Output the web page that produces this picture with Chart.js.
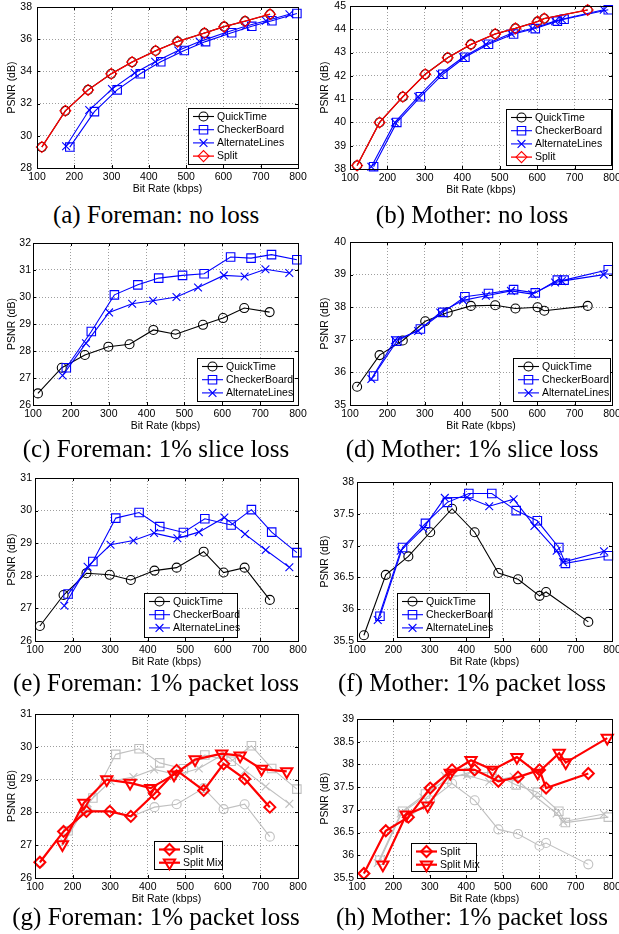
<!DOCTYPE html>
<html>
<head>
<meta charset="utf-8">
<script src="https://cdn.jsdelivr.net/npm/chart.js@4.4.1/dist/chart.umd.min.js"></script>
<style>
  html, body { margin: 0; padding: 0; background: #fff; width: 619px; height: 934px; overflow: hidden; position: relative; }
  canvas { position: absolute; }
  .cap { position: absolute; width: 340px; text-align: center; white-space: nowrap; color: #000;
         font-family: "Liberation Serif", "Times New Roman", serif; font-size: 25px; line-height: 25px; }
</style>
</head>
<body>
<script>
// ---- bit rates (kbps) ----
const foremanRateQT = [113, 176, 237, 299, 355, 418, 477, 549, 602, 658, 725];
const foremanRateCB = [188, 254, 315, 377, 432, 495, 552, 622, 676, 730, 797];
const foremanRateAL = [178, 240, 301, 362, 417, 479, 536, 604, 659, 714, 777];
const foremanRateSM = [173, 230, 291, 353, 408, 470, 526, 597, 646, 703, 770];
const motherRateQT = [119, 179, 241, 301, 361, 423, 488, 542, 601, 619, 735];
const motherRateCB = [163, 225, 288, 348, 407, 470, 537, 595, 654, 672, 790];
const motherRateAL = [157, 220, 282, 341, 402, 463, 530, 587, 648, 666, 778];
const motherRateSM = [171, 235, 294, 356, 413, 472, 539, 596, 655, 673, 787];

// ---- PSNR (dB) ----
// (a) Foreman, no loss
const foremanNoLossQT    = [29.3, 31.55, 32.85, 33.85, 34.58, 35.28, 35.85, 36.38, 36.78, 37.12, 37.55];
const foremanNoLossCB    = [29.3, 31.5, 32.85, 33.85, 34.6, 35.3, 35.85, 36.4, 36.8, 37.15, 37.6];
const foremanNoLossAL    = [29.35, 31.6, 32.9, 33.9, 34.6, 35.3, 35.85, 36.4, 36.8, 37.15, 37.55];
const foremanNoLossSplit = [29.3, 31.55, 32.85, 33.85, 34.58, 35.28, 35.85, 36.38, 36.78, 37.12, 37.55];
// (b) Mother, no loss
const motherNoLossQT    = [38.15, 40.0, 41.1, 42.07, 42.78, 43.35, 43.8, 44.04, 44.33, 44.46, 44.83];
const motherNoLossCB    = [38.1, 40.0, 41.1, 42.07, 42.8, 43.36, 43.8, 44.03, 44.35, 44.43, 44.84];
const motherNoLossAL    = [38.1, 40.0, 41.1, 42.07, 42.8, 43.36, 43.82, 44.03, 44.35, 44.43, 44.84];
const motherNoLossSplit = [38.15, 40.0, 41.1, 42.07, 42.78, 43.35, 43.8, 44.04, 44.33, 44.46, 44.83];
// (c) Foreman, 1% slice loss
const foremanSliceQT = [26.43, 27.38, 27.85, 28.16, 28.25, 28.78, 28.62, 28.97, 29.22, 29.59, 29.44];
const foremanSliceCB = [27.38, 28.72, 30.08, 30.45, 30.7, 30.8, 30.86, 31.48, 31.44, 31.57, 31.38];
const foremanSliceAL = [27.09, 28.29, 29.43, 29.75, 29.86, 30.0, 30.35, 30.8, 30.76, 31.03, 30.89];
// (d) Mother, 1% slice loss
const motherSliceQT = [35.56, 36.53, 36.98, 37.57, 37.84, 38.04, 38.06, 37.96, 38.0, 37.89, 38.04];
const motherSliceCB = [35.89, 36.96, 37.33, 37.84, 38.32, 38.42, 38.54, 38.44, 38.83, 38.83, 39.15];
const motherSliceAL = [35.8, 36.99, 37.27, 37.84, 38.21, 38.35, 38.5, 38.4, 38.76, 38.8, 39.0];
// (e)/(g) Foreman, 1% packet loss
const foremanPacketQT = [26.46, 27.41, 28.08, 28.03, 27.87, 28.16, 28.25, 28.74, 28.1, 28.25, 27.26];
const foremanPacketCB = [27.44, 28.44, 29.77, 29.94, 29.51, 29.33, 29.75, 29.56, 30.03, 29.34, 28.71];
const foremanPacketAL = [27.08, 28.28, 28.95, 29.08, 29.31, 29.15, 29.34, 29.79, 29.28, 28.79, 28.26];
const foremanPacketSplit = [26.48, 27.42, 28.03, 28.03, 27.88, 28.57, 29.28, 28.67, 29.48, 29.02, 28.16];
const foremanPacketSM    = [27.02, 28.29, 29.0, 28.9, 28.74, 29.15, 29.61, 29.79, 29.73, 29.32, 29.25];
// (f)/(h) Mother, 1% packet loss
const motherPacketQT = [35.59, 36.54, 36.83, 37.21, 37.58, 37.21, 36.57, 36.47, 36.21, 36.27, 35.8];
const motherPacketCB = [35.89, 36.97, 37.35, 37.68, 37.82, 37.82, 37.55, 37.39, 36.97, 36.72, 36.84];
const motherPacketAL = [35.83, 36.92, 37.27, 37.75, 37.76, 37.62, 37.73, 37.31, 36.92, 36.74, 36.91];
const motherPacketSplit = [35.6, 36.54, 36.84, 37.48, 37.88, 37.88, 37.63, 37.72, 37.88, 37.48, 37.8];
const motherPacketSM    = [35.79, 36.89, 37.09, 37.81, 38.09, 37.88, 38.16, 37.81, 38.25, 38.04, 38.58];

// ---- tick labels ----
const rateTicks = [100, 200, 300, 400, 500, 600, 700, 800];
const ticksA = [28, 30, 32, 34, 36, 38];
const ticksB = [38, 39, 40, 41, 42, 43, 44, 45];
const ticksC = [26, 27, 28, 29, 30, 31, 32];
const ticksD = [35, 36, 37, 38, 39, 40];
const ticksE = [26, 27, 28, 29, 30, 31];
const ticksF = [35.5, 36, 36.5, 37, 37.5, 38];
const ticksH = [35.5, 36, 36.5, 37, 37.5, 38, 38.5, 39];

const FONT = '"Liberation Sans", Arial, Helvetica, sans-serif';
const GREY = '#c0c0c0';
Chart.defaults.font.family = FONT;
Chart.defaults.color = '#000';

const STYLE = {
  'QuickTime':      { color: '#000000', point: 'circle',   radius: 4.5, rot: 0 },
  'CheckerBoard':   { color: '#0000ff', point: 'rect',     radius: 6,   rot: 0 },
  'AlternateLines': { color: '#0000ff', point: 'crossRot', radius: 5.5, rot: 0 },
  'Split':          { color: '#ff0000', point: 'rectRot',  radius: 5.5, rot: 0 },
  'Split Mix':      { color: '#ff0000', point: 'triangle', radius: 6.5, rot: 180 }
};

function series(name, xs, ys, o) {
  const s = STYLE[name];
  const color = o.color || s.color;
  return {
    label: name,
    data: xs.map((x, i) => ({ x: x, y: ys[i] })),
    borderColor: color,
    backgroundColor: color,
    borderWidth: o.lw || 1.1,
    pointStyle: s.point,
    pointRadius: s.radius,
    pointHoverRadius: s.radius,
    pointRotation: s.rot,
    pointBorderColor: color,
    pointBackgroundColor: 'rgba(0,0,0,0)',
    pointBorderWidth: o.mw || 1.1,
    tension: 0,
    fill: false,
    clip: false,
    order: o.order
  };
}

// legend marker, same shapes as the chart points
function marker(ctx, style, x, y, r, rot) {
  ctx.beginPath();
  if (style === 'circle') {
    ctx.arc(x, y, r, 0, Math.PI * 2);
  } else if (style === 'rect') {
    const h = Math.SQRT1_2 * r;
    ctx.rect(x - h, y - h, 2 * h, 2 * h);
  } else if (style === 'rectRot') {
    ctx.moveTo(x - r, y); ctx.lineTo(x, y - r); ctx.lineTo(x + r, y); ctx.lineTo(x, y + r); ctx.closePath();
  } else if (style === 'crossRot') {
    const h = Math.SQRT1_2 * r;
    ctx.moveTo(x - h, y - h); ctx.lineTo(x + h, y + h);
    ctx.moveTo(x - h, y + h); ctx.lineTo(x + h, y - h);
  } else if (style === 'triangle') {
    let a = rot * Math.PI / 180;
    ctx.moveTo(x + Math.sin(a) * r, y - Math.cos(a) * r);
    a += 2 * Math.PI / 3; ctx.lineTo(x + Math.sin(a) * r, y - Math.cos(a) * r);
    a += 2 * Math.PI / 3; ctx.lineTo(x + Math.sin(a) * r, y - Math.cos(a) * r);
    ctx.closePath();
  }
  ctx.stroke();
}

function makeFrame(legend, colX, canvasTop) {
  return {
    id: 'frame',
    afterDraw(chart) {
      const ctx = chart.ctx;
      const a = chart.chartArea;
      const xs = chart.scales.x, ys = chart.scales.y;
      ctx.save();
      ctx.strokeStyle = '#000';
      ctx.lineWidth = 1;
      ctx.setLineDash([]);
      // small inward ticks
      ctx.beginPath();
      xs.ticks.forEach(t => {
        const px = Math.round(xs.getPixelForValue(t.value)) + 0.5;
        ctx.moveTo(px, a.bottom); ctx.lineTo(px, a.bottom - 3);
        ctx.moveTo(px, a.top); ctx.lineTo(px, a.top + 3);
      });
      ys.ticks.forEach(t => {
        const py = Math.round(ys.getPixelForValue(t.value)) + 0.5;
        ctx.moveTo(a.left, py); ctx.lineTo(a.left + 3, py);
        ctx.moveTo(a.right, py); ctx.lineTo(a.right - 3, py);
      });
      ctx.stroke();
      ctx.strokeRect(Math.round(a.left) + 0.5, Math.round(a.top) + 0.5,
                     Math.round(a.right - a.left), Math.round(a.bottom - a.top));

      // legend box
      const L = legend.box[0] - colX, T = legend.box[1] - canvasTop;
      const R = legend.box[2] - colX, B = legend.box[3] - canvasTop;
      ctx.fillStyle = '#fff';
      ctx.fillRect(L, T, R - L, B - T);
      ctx.strokeRect(L + 0.5, T + 0.5, R - L, B - T);
      ctx.font = '10.5px ' + FONT;
      ctx.textBaseline = 'middle';
      ctx.textAlign = 'left';
      legend.items.forEach((ds, i) => {
        const y = T + 8.5 + i * 13.2;
        const x1 = L + 5, x2 = L + 26;
        ctx.strokeStyle = ds.borderColor;
        ctx.lineWidth = ds.borderWidth;
        ctx.beginPath(); ctx.moveTo(x1, y); ctx.lineTo(x2, y); ctx.stroke();
        ctx.lineWidth = ds.pointBorderWidth;
        marker(ctx, ds.pointStyle, (x1 + x2) / 2, y, ds.pointRadius, ds.pointRotation);
        ctx.fillStyle = '#000';
        ctx.fillText(ds.label, x2 + 3, y + 0.5);
      });
      ctx.restore();
    }
  };
}

function panel(p) {
  const colX = p.col === 0 ? 0 : 309;
  const cw = p.col === 0 ? 320 : 330;
  const padTop = 12, xH = 27, padBottom = 4;
  const r = p.rect;
  const ch = padTop + (r.b - r.t) + xH + padBottom;
  const top = r.t - padTop;
  const canvas = document.createElement('canvas');
  canvas.width = cw; canvas.height = ch;
  canvas.style.left = colX + 'px';
  canvas.style.top = top + 'px';
  canvas.style.width = cw + 'px';
  canvas.style.height = ch + 'px';
  document.body.appendChild(canvas);

  const yt = p.yTicks;
  const gridOpts = { color: 'rgba(0,0,0,0.38)', lineWidth: 1, drawTicks: false };
  new Chart(canvas, {
    type: 'line',
    data: { datasets: p.datasets },
    options: {
      responsive: false,
      animation: false,
      devicePixelRatio: 1,
      events: [],
      layout: { padding: { left: 0, top: padTop, right: cw - (r.r - colX), bottom: padBottom } },
      plugins: { legend: { display: false }, tooltip: { enabled: false } },
      scales: {
        x: {
          type: 'linear',
          min: rateTicks[0], max: rateTicks[rateTicks.length - 1],
          afterFit: s => { s.height = xH; },
          ticks: { stepSize: rateTicks[1] - rateTicks[0], autoSkip: false, maxRotation: 0, padding: 3,
                   font: { size: 10.5 } },
          grid: gridOpts,
          border: { display: false, dash: [1, 2] },
          title: { display: true, text: 'Bit Rate (kbps)', padding: 0, font: { size: 10.5 } }
        },
        y: {
          type: 'linear',
          min: yt[0], max: yt[yt.length - 1],
          afterFit: s => { s.width = r.l - colX; },
          ticks: { stepSize: yt[1] - yt[0], autoSkip: false, padding: p.tickPad || 4,
                   font: { size: 10.5 },
                   callback: v => String(Math.round(v * 100) / 100) },
          grid: gridOpts,
          border: { display: false, dash: [1, 2] },
          title: { display: true, text: 'PSNR (dB)', padding: { top: p.col === 0 ? 5.5 : 9.5 },
                   font: { size: 10.5 } }
        }
      }
    },
    plugins: [makeFrame({ box: p.legendBox, items: p.legendItems }, colX, top)]
  });

  const cap = document.createElement('div');
  cap.className = 'cap';
  cap.textContent = p.caption;
  cap.style.left = ((p.col === 0 ? 156 : 472) - 170) + 'px';
  cap.style.top = (p.capBase - 21) + 'px';
  document.body.appendChild(cap);
}

// ---- panels ----
(function () {
  // (a)
  let qt = series('QuickTime', foremanRateQT, foremanNoLossQT, { order: 3 });
  let cb = series('CheckerBoard', foremanRateCB, foremanNoLossCB, { order: 2 });
  let al = series('AlternateLines', foremanRateAL, foremanNoLossAL, { order: 1 });
  let sp = series('Split', foremanRateQT, foremanNoLossSplit, { order: 0, lw: 1.3 });
  panel({ col: 0, rect: { l: 37, t: 7, r: 298, b: 168 }, yTicks: ticksA, tickPad: 5,
          datasets: [qt, cb, al, sp], legendBox: [188, 108, 298, 164], legendItems: [qt, cb, al, sp],
          caption: '(a) Foreman: no loss', capBase: 223 });

  // (b)
  qt = series('QuickTime', motherRateQT, motherNoLossQT, { order: 3 });
  cb = series('CheckerBoard', motherRateCB, motherNoLossCB, { order: 2 });
  al = series('AlternateLines', motherRateAL, motherNoLossAL, { order: 1 });
  sp = series('Split', motherRateQT, motherNoLossSplit, { order: 0, lw: 1.3 });
  panel({ col: 1, rect: { l: 350, t: 6, r: 612, b: 169 }, yTicks: ticksB,
          datasets: [qt, cb, al, sp], legendBox: [506, 109, 611, 165], legendItems: [qt, cb, al, sp],
          caption: '(b) Mother: no loss', capBase: 223 });

  // (c)
  qt = series('QuickTime', foremanRateQT, foremanSliceQT, { order: 2 });
  cb = series('CheckerBoard', foremanRateCB, foremanSliceCB, { order: 1 });
  al = series('AlternateLines', foremanRateAL, foremanSliceAL, { order: 0 });
  panel({ col: 0, rect: { l: 33, t: 243, r: 298, b: 405 }, yTicks: ticksC, tickPad: 2,
          datasets: [qt, cb, al], legendBox: [197, 358, 293, 401], legendItems: [qt, cb, al],
          caption: '(c) Foreman: 1% slice loss', capBase: 457 });

  // (d)
  qt = series('QuickTime', motherRateQT, motherSliceQT, { order: 2 });
  cb = series('CheckerBoard', motherRateCB, motherSliceCB, { order: 1 });
  al = series('AlternateLines', motherRateAL, motherSliceAL, { order: 0 });
  panel({ col: 1, rect: { l: 350, t: 242, r: 612, b: 405 }, yTicks: ticksD,
          datasets: [qt, cb, al], legendBox: [513, 358, 610, 401], legendItems: [qt, cb, al],
          caption: '(d) Mother: 1% slice loss', capBase: 457 });

  // (e)
  qt = series('QuickTime', foremanRateQT, foremanPacketQT, { order: 2 });
  cb = series('CheckerBoard', foremanRateCB, foremanPacketCB, { order: 1 });
  al = series('AlternateLines', foremanRateAL, foremanPacketAL, { order: 0 });
  panel({ col: 0, rect: { l: 35, t: 478, r: 298, b: 641 }, yTicks: ticksE, tickPad: 3,
          datasets: [qt, cb, al], legendBox: [144, 593, 237, 637], legendItems: [qt, cb, al],
          caption: '(e) Foreman: 1% packet loss', capBase: 691 });

  // (f)
  qt = series('QuickTime', motherRateQT, motherPacketQT, { order: 2 });
  cb = series('CheckerBoard', motherRateCB, motherPacketCB, { order: 1 });
  al = series('AlternateLines', motherRateAL, motherPacketAL, { order: 0 });
  panel({ col: 1, rect: { l: 357, t: 482, r: 612, b: 641 }, yTicks: ticksF, tickPad: 3,
          datasets: [qt, cb, al], legendBox: [397, 593, 489, 637], legendItems: [qt, cb, al],
          caption: '(f) Mother: 1% packet loss', capBase: 691 });

  // (g)
  qt = series('QuickTime', foremanRateQT, foremanPacketQT, { order: 4, color: GREY });
  cb = series('CheckerBoard', foremanRateCB, foremanPacketCB, { order: 3, color: GREY });
  al = series('AlternateLines', foremanRateAL, foremanPacketAL, { order: 2, color: GREY });
  sp = series('Split', foremanRateQT, foremanPacketSplit, { order: 1, lw: 2.2, mw: 2 });
  let sm = series('Split Mix', foremanRateSM, foremanPacketSM, { order: 0, lw: 2.2, mw: 2 });
  panel({ col: 0, rect: { l: 35, t: 714, r: 298, b: 878 }, yTicks: ticksE, tickPad: 3,
          datasets: [qt, cb, al, sp, sm], legendBox: [154, 841, 222, 869], legendItems: [sp, sm],
          caption: '(g) Foreman: 1% packet loss', capBase: 925 });

  // (h)
  qt = series('QuickTime', motherRateQT, motherPacketQT, { order: 4, color: GREY });
  cb = series('CheckerBoard', motherRateCB, motherPacketCB, { order: 3, color: GREY });
  al = series('AlternateLines', motherRateAL, motherPacketAL, { order: 2, color: GREY });
  sp = series('Split', motherRateQT, motherPacketSplit, { order: 1, lw: 2.2, mw: 2 });
  sm = series('Split Mix', motherRateSM, motherPacketSM, { order: 0, lw: 2.2, mw: 2 });
  panel({ col: 1, rect: { l: 357, t: 719, r: 612, b: 878 }, yTicks: ticksH, tickPad: 3,
          datasets: [qt, cb, al, sp, sm], legendBox: [411, 843, 476, 871], legendItems: [sp, sm],
          caption: '(h) Mother: 1% packet loss', capBase: 925 });
})();
</script>
</body>
</html>
